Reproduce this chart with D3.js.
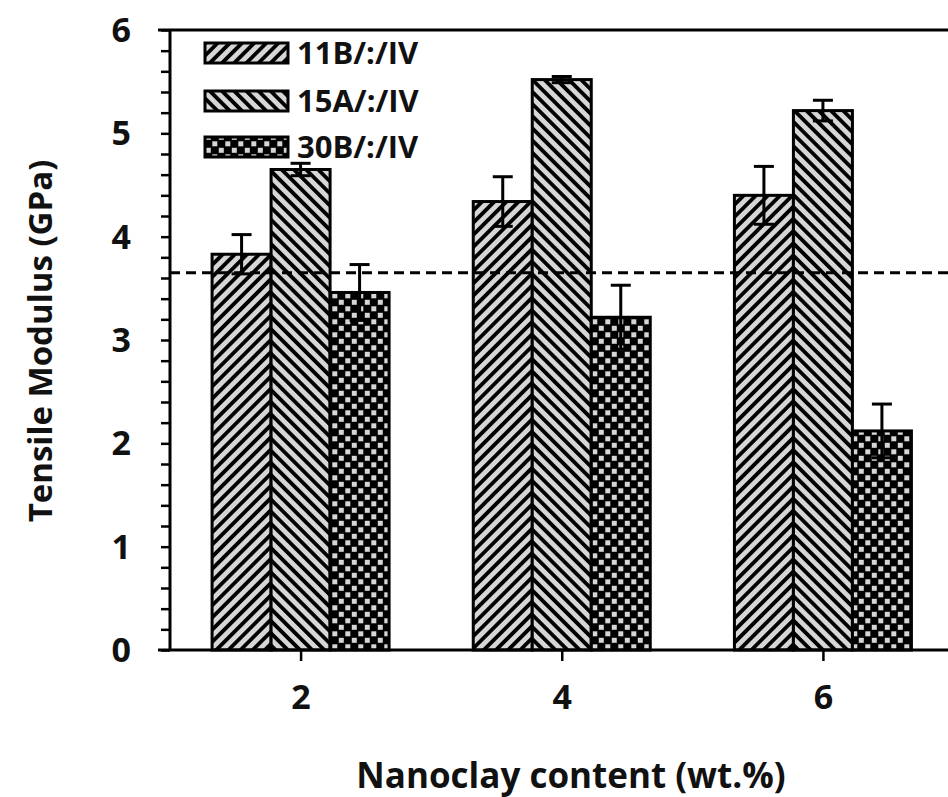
<!DOCTYPE html>
<html>
<head>
<meta charset="utf-8">
<script src="https://cdn.jsdelivr.net/npm/d3@7"></script>
<style>
  body { margin: 0; background: #fff; }
  svg { display: block; }
  text { font-family: "Open Sans", sans-serif; font-weight: 700; fill: #111; }
</style>
</head>
<body>
<svg id="chart" width="948" height="797"></svg>
<script>
// values
const contents = [2, 4, 6];
const seriesNames = ["11B/:/IV", "15A/:/IV", "30B/:/IV"];
const modulus11B = [3.83, 4.34, 4.40];
const modulus15A = [4.65, 5.52, 5.22];
const modulus30B = [3.46, 3.22, 2.12];
const err11B = [0.19, 0.24, 0.28];
const err15A = [0.06, 0.03, 0.10];
const err30B = [0.27, 0.31, 0.26];
const neatModulus = 3.65; // dashed reference line
const yTicks = [0, 1, 2, 3, 4, 5, 6];

const svg = d3.select("#chart"),
  width = 948,
  axisX = 170,
  plotTop = 30,
  plotBottom = 650,
  barWidth = 59;

const x = d3.scaleLinear().domain([1, 7]).range([axisX, 953.5]);
const y = d3.scaleLinear().domain([0, 6]).range([plotBottom, plotTop]);
const offset = d3
  .scaleBand()
  .domain(seriesNames)
  .range([-1.5 * barWidth, 1.5 * barWidth]);

const values = [modulus11B, modulus15A, modulus30B];
const errors = [err11B, err15A, err30B];
const bars = [];
seriesNames.forEach((s, i) => {
  contents.forEach((c, j) => {
    bars.push({ series: s, content: c, value: values[i][j], err: errors[i][j] });
  });
});

// fill patterns
const defs = svg.append("defs");
const gray = "#d6d6d6";

function stripes(id, angle) {
  const p = defs
    .append("pattern")
    .attr("id", id)
    .attr("patternUnits", "userSpaceOnUse")
    .attr("width", 8.6)
    .attr("height", 8.6)
    .attr("patternTransform", `rotate(${angle})`);
  p.append("rect").attr("width", 8.6).attr("height", 8.6).attr("fill", gray);
  p.append("rect").attr("width", 3.8).attr("height", 8.6).attr("fill", "#000");
}
stripes("pat0", 45);
stripes("pat1", -45);

const checker = defs
  .append("pattern")
  .attr("id", "pat2")
  .attr("patternUnits", "userSpaceOnUse")
  .attr("width", 13)
  .attr("height", 13);
checker.append("rect").attr("width", 13).attr("height", 13).attr("fill", "#000");
checker
  .selectAll("rect.cell")
  .data([[0.8, 0.8], [7.3, 7.3]])
  .enter()
  .append("rect")
  .attr("class", "cell")
  .attr("x", (d) => d[0])
  .attr("y", (d) => d[1])
  .attr("width", 5)
  .attr("height", 5)
  .attr("fill", gray);

const patternOf = (s) => `url(#pat${seriesNames.indexOf(s)})`;

// bars
svg
  .append("g")
  .selectAll("rect")
  .data(bars)
  .enter()
  .append("rect")
  .attr("x", (d) => x(d.content) + offset(d.series))
  .attr("y", (d) => y(d.value))
  .attr("width", barWidth)
  .attr("height", (d) => y(0) - y(d.value))
  .attr("fill", (d) => patternOf(d.series))
  .attr("stroke", "#000")
  .attr("stroke-width", 3);

// dashed reference line
svg
  .append("line")
  .attr("x1", axisX)
  .attr("x2", width)
  .attr("y1", y(neatModulus))
  .attr("y2", y(neatModulus))
  .attr("stroke", "#000")
  .attr("stroke-width", 3)
  .attr("stroke-dasharray", "10,6");

// error bars
const errG = svg
  .append("g")
  .attr("stroke", "#000")
  .attr("stroke-width", 3)
  .selectAll("g")
  .data(bars)
  .enter()
  .append("g")
  .attr("transform", (d) => `translate(${x(d.content) + offset(d.series) + barWidth / 2},0)`);
errG
  .append("line")
  .attr("y1", (d) => y(d.value + d.err))
  .attr("y2", (d) => y(d.value - d.err));
errG
  .append("line")
  .attr("x1", -10)
  .attr("x2", 10)
  .attr("y1", (d) => y(d.value + d.err))
  .attr("y2", (d) => y(d.value + d.err));
errG
  .append("line")
  .attr("x1", -10)
  .attr("x2", 10)
  .attr("y1", (d) => y(d.value - d.err))
  .attr("y2", (d) => y(d.value - d.err));

// y axis with minor ticks
const yAxis = d3
  .axisLeft(y)
  .tickValues(d3.range(0, 6.01, 0.2))
  .tickSize(9)
  .tickFormat("");
const yAxisG = svg.append("g").attr("transform", `translate(${axisX},0)`).call(yAxis);
yAxisG.select(".domain").remove();
yAxisG.selectAll(".tick line").attr("stroke", "#000").attr("stroke-width", 2.5);

svg
  .append("g")
  .selectAll("text")
  .data(yTicks)
  .enter()
  .append("text")
  .attr("x", 131)
  .attr("y", (d) => y(d) + 34 * 0.357)
  .attr("text-anchor", "end")
  .style("font-size", "34px")
  .text((d) => d);

// frame: left axis, top and bottom lines
svg
  .append("path")
  .attr("d", `M${axisX - 12},${plotTop}H${x(7)}V${plotBottom}H${axisX - 12}M${axisX},${plotTop}V${plotBottom}`)
  .attr("fill", "none")
  .attr("stroke", "#000")
  .attr("stroke-width", 3);

// x axis ticks and labels
const xAxis = d3.axisBottom(x).tickValues(contents).tickSize(11).tickFormat("");
const xAxisG = svg.append("g").attr("transform", `translate(0,${plotBottom})`).call(xAxis);
xAxisG.select(".domain").remove();
xAxisG.selectAll(".tick line").attr("stroke", "#000").attr("stroke-width", 2.5);

svg
  .append("g")
  .selectAll("text")
  .data(contents)
  .enter()
  .append("text")
  .attr("x", (d) => x(d) + 0.5)
  .attr("y", 697 + 34 * 0.357)
  .attr("text-anchor", "middle")
  .style("font-size", "34px")
  .text((d) => d);

// axis titles
svg
  .append("text")
  .attr("x", 571)
  .attr("y", 788)
  .attr("text-anchor", "middle")
  .style("font-size", "35px")
  .text("Nanoclay content (wt.%)");

svg
  .append("text")
  .attr("transform", "translate(52,341) rotate(-90)")
  .attr("text-anchor", "middle")
  .style("font-size", "33px")
  .text("Tensile Modulus (GPa)");

// legend
const legendY = [53, 101, 147];
const legend = svg
  .append("g")
  .selectAll("g")
  .data(seriesNames)
  .enter()
  .append("g")
  .attr("transform", (d, i) => `translate(205,${legendY[i]})`);
legend
  .append("rect")
  .attr("y", -10)
  .attr("width", 83)
  .attr("height", 20)
  .attr("fill", (d) => patternOf(d))
  .attr("stroke", "#000")
  .attr("stroke-width", 3);
legend
  .append("text")
  .attr("x", 92)
  .attr("y", 31 * 0.357)
  .style("font-size", "31px")
  .text((d) => d);
</script>
</body>
</html>
